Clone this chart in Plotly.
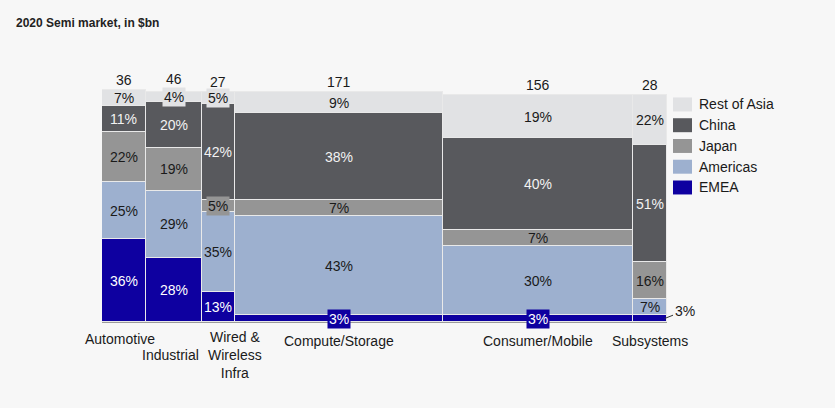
import plotly.graph_objects as go

# ---------------- data ----------------
categories = ["Automotive", "Industrial", "Wired & Wireless Infra", "Compute/Storage",
              "Consumer/Mobile", "Subsystems"]
cat_labels = ["Automotive", "Industrial", "Wired &<br>Wireless<br>Infra", "Compute/Storage",
              "Consumer/Mobile", "Subsystems"]
market_bn = [36, 46, 27, 171, 156, 28]

regions = ["EMEA", "Americas", "Japan", "China", "Rest of Asia"]
emea = [36, 28, 13, 3, 3, 3]
americas = [25, 29, 35, 43, 30, 7]
japan = [22, 19, 5, 7, 7, 16]
china = [11, 20, 42, 38, 40, 51]
rest_of_asia = [7, 4, 5, 9, 19, 22]
shares = [emea, americas, japan, china, rest_of_asia]

# ---------------- style ----------------
colors = {"EMEA": "#0e00a0", "Americas": "#9db0cf", "Japan": "#959595",
          "China": "#58595d", "Rest of Asia": "#e1e2e4"}
text_col = {"EMEA": "#ffffff", "Americas": "#1a1a1a", "Japan": "#1a1a1a",
            "China": "#f2f2f2", "Rest of Asia": "#1a1a1a"}
FONT = "Liberation Sans, Arial, sans-serif"
BG = "#f7f7f7"

# screen geometry of plot area (page has an 8px body margin)
PL, PR, PT, PB = 102, 667, 80.5, 322
OFF = 8
W, H = 835, 408


def px(X):
    return (X - PL) / (PR - PL)


def py(Y):
    return (PB - Y) / (PB - PT)


# x geometry from market sizes
lefts = []
acc = 0
for m in market_bn:
    lefts.append(acc)
    acc += m
total = acc
centers = [l + m / 2 for l, m in zip(lefts, market_bn)]

fig = go.Figure()
for r, vals in zip(regions, shares):
    fig.add_trace(go.Bar(
        x=centers, y=vals, width=market_bn, name=r,
        marker=dict(color=colors[r], line=dict(color="#e9e9e9", width=1.5)),
        showlegend=False, hoverinfo="skip"))

annotations = []
boxed = {(1, 4), (2, 4), (2, 2), (3, 0), (4, 0)}
total_yshift = [0, 3, 0, 0, 0, 0]
for ci in range(len(categories)):
    base = 0
    for ri, (r, vals) in enumerate(zip(regions, shares)):
        v = vals[ci]
        mid = base + v / 2
        base += v
        if ci == 5 and ri == 0:
            annotations.append(dict(x=total - 2, y=mid, xref="x", yref="y",
                                    text=f"{v}%", showarrow=True, arrowhead=0,
                                    arrowwidth=1, arrowcolor="#333", ax=20, ay=-8,
                                    font=dict(family=FONT, size=14, color="#1a1a1a")))
            continue
        a = dict(x=centers[ci], y=mid, xref="x", yref="y", text=f"{v}%",
                 showarrow=False,
                 font=dict(family=FONT, size=14, color=text_col[r]))
        if (ci, ri) in boxed:
            a["bgcolor"] = colors[r]
            a["borderpad"] = 1
        annotations.append(a)
    annotations.append(dict(x=centers[ci], y=base, xref="x", yref="y",
                            text=str(market_bn[ci]), showarrow=False,
                            yanchor="bottom", yshift=total_yshift[ci],
                            font=dict(family=FONT, size=14, color="#1a1a1a")))

# category labels under bars
label_xshift = [-4, -3, 17, 0, 0, 0]
label_yshift = [-7, -23, -5, -9, -9, -9]
for ci, lab in enumerate(cat_labels):
    annotations.append(dict(x=centers[ci], y=0, xref="x", yref="y", text=lab,
                            showarrow=False, yanchor="top", xanchor="center",
                            xshift=label_xshift[ci], yshift=label_yshift[ci],
                            align="center",
                            font=dict(family=FONT, size=14, color="#1a1a1a")))

# legend (manual, top to bottom)
shapes = []
leg_order = ["Rest of Asia", "China", "Japan", "Americas", "EMEA"]
for i, r in enumerate(leg_order):
    cy = 104 + i * 20.8
    shapes.append(dict(type="rect", xref="paper", yref="paper",
                       x0=px(673), x1=px(692), y0=py(cy + 7), y1=py(cy - 7),
                       fillcolor=colors[r], line=dict(width=0), layer="above"))
    annotations.append(dict(x=px(697), y=py(cy), xref="paper", yref="paper",
                            text=r, showarrow=False, xanchor="left", yanchor="middle",
                            font=dict(family=FONT, size=14, color="#1a1a1a")))

# title
annotations.append(dict(x=px(14), y=py(22), xref="paper", yref="paper",
                        text="<b>2020 Semi market, in $bn</b>", showarrow=False,
                        xanchor="left", yanchor="middle",
                        font=dict(family=FONT, size=12, color="#222222")))

fig.update_layout(
    width=W, height=H, barmode="stack", bargap=0,
    paper_bgcolor=BG, plot_bgcolor=BG,
    margin=dict(l=PL - OFF, r=W - (PR - OFF), t=PT - OFF, b=H - (PB - OFF)),
    xaxis=dict(range=[0, total], showgrid=False, showticklabels=False, zeroline=False,
               showline=True, linecolor="#9a9a9a", linewidth=1, ticks=""),
    yaxis=dict(range=[0, 105], showgrid=False, showticklabels=False, zeroline=False,
               showline=False),
    annotations=annotations, shapes=shapes,
)
fig.write_html("out.html", post_script="document.body.style.background='#f7f7f7';")
